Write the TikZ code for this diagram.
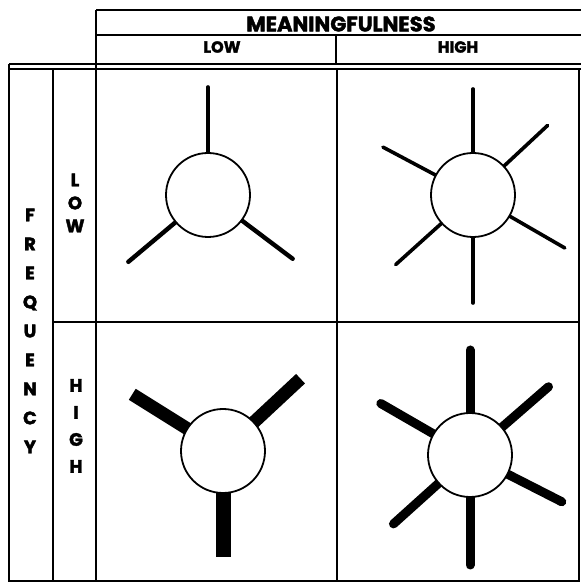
\documentclass[tikz,border=0pt]{standalone}
\usepackage{fontspec}
\setmainfont{Poppins}[BoldFeatures={FakeBold=2}]
\usetikzlibrary{positioning,backgrounds}

\begin{document}
\begin{tikzpicture}[
    x=1pt,y=1pt,
    rule/.style={line width=2.6pt},
    hub/.style={circle,draw,line width=1.8pt,fill=white,minimum size=84pt,inner sep=0pt},
    fine/.style={line width=3.6pt,line cap=round},
    heavy/.style={line width=13pt},
    medium/.style={line width=9pt,line cap=round},
    head/.style={font=\bfseries\fontsize{21}{21}\selectfont,inner sep=0pt},
    sub/.style={font=\bfseries\fontsize{16}{16}\selectfont,inner sep=0pt},
    stack/.style={align=center,inner sep=0pt,font=\bfseries\fontsize{18}{29}\selectfont}
  ]
    \useasboundingbox (0,0) rectangle (581,583);

    % Header
    \draw[rule] (96,573) -- (581,573);
    \draw[rule] (96,548) -- (581,548);
    \draw[rule] (336,548) -- (336,519);
    \draw[rule] (9,519) -- (581,519);
    \draw[rule] (9,514) -- (581,514);
    \node[head] (mean) at (341,559) {MEANINGFULNESS};
    \node[sub] (mlow) at (222,536) {LOW};
    \node[sub] (mhigh) at (458,536) {HIGH};

    % Grid
    \draw[rule] (96,573) -- (96,2);
    \draw[rule] (9,519) -- (9,2) -- (579,2) -- (579,514);
    \draw[rule] (53,514) -- (53,2);
    \draw[rule] (337,514) -- (337,2);
    \draw[rule] (53,261) -- (579,261);

    % Row labels
    \node[stack] (freq) at (30,252) {F\\R\\E\\Q\\U\\E\\N\\C\\Y};
    \node[stack,font=\bfseries\fontsize{18}{23}\selectfont] (flow) at (75,380) {L\\O\\W};
    \node[stack,font=\bfseries\fontsize{18}{27}\selectfont] (fhigh) at (76,157) {H\\I\\G\\H};

    % Hubs
    \node[hub] (ll) at (208,388) {};
    \node[hub] (lh) at (473,388) {};
    \node[hub] (hl) at (223,132) {};
    \node[hub] (hh) at (470,128) {};

    \begin{scope}[on background layer]
      % Low frequency, low meaningfulness
      \draw[fine] (ll.center) -- +(90:108);
      \draw[fine,line width=4.4pt] (ll.center) -- +(220:104);
      \draw[fine,line width=4.4pt] (ll.center) -- +(323:106);

      % Low frequency, high meaningfulness
      \draw[fine] (lh.center) -- +(90:106);
      \draw[fine] (lh.center) -- +(43:102);
      \draw[fine] (lh.center) -- +(152:102);
      \draw[fine] (lh.center) -- +(330:106);
      \draw[fine] (lh.center) -- +(222:104);
      \draw[fine] (lh.center) -- +(270:108);

      % High frequency, low meaningfulness
      \draw[heavy] (hl.center) -- +(148:107);
      \draw[heavy] (hl.center) -- +(43:106);
      \draw[heavy,line width=15pt] (hl.center) -- +(270:106);

      % High frequency, high meaningfulness
      \draw[medium] (hh.center) -- +(90:105);
      \draw[medium] (hh.center) -- +(41:104);
      \draw[medium] (hh.center) -- +(150:103);
      \draw[medium] (hh.center) -- +(333:103);
      \draw[medium] (hh.center) -- +(222:103);
      \draw[medium] (hh.center) -- +(270:110);
    \end{scope}
  \end{tikzpicture}
\end{document}
